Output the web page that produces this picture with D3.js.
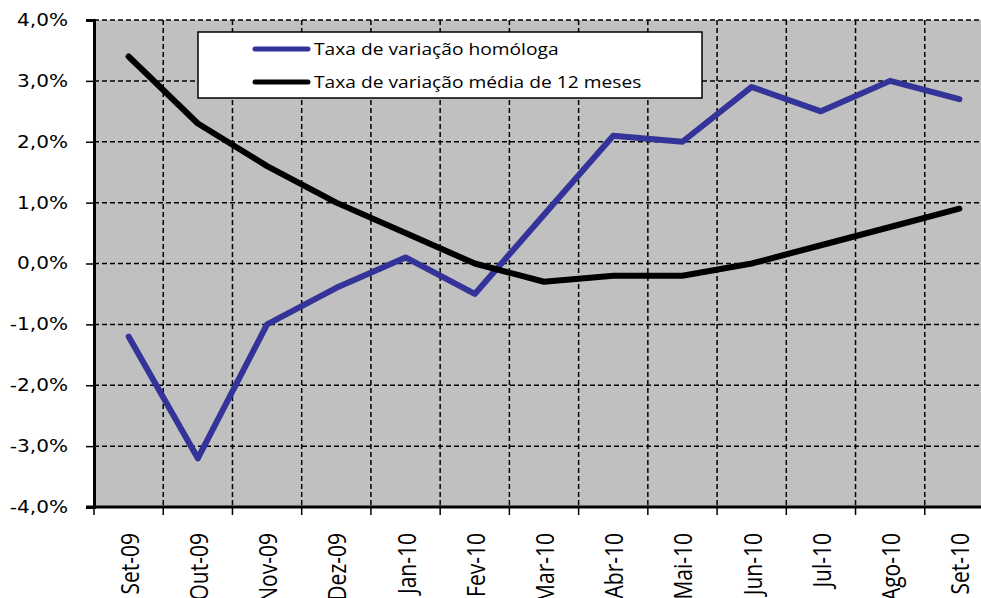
<!DOCTYPE html>
<head>
  <meta charset="UTF-8">
  <title>taxa de variação</title>
  <style>
  body, html, svg{
    padding: 0;
    margin: 0;
  }
  body{
    background: #fff;
    overflow: hidden;
  }
  </style>
</head>
<body>
  <script src="https://cdn.jsdelivr.net/npm/d3@7/dist/d3.min.js"></script>
  <script type="text/javascript">
  var width = 981;
  var height = 598;

  // dados
  var meses = ['Set-09', 'Out-09', 'Nov-09', 'Dez-09', 'Jan-10', 'Fev-10', 'Mar-10',
               'Abr-10', 'Mai-10', 'Jun-10', 'Jul-10', 'Ago-10', 'Set-10'];
  var homologa = [-1.2, -3.2, -1.0, -0.4, 0.1, -0.5, 0.8, 2.1, 2.0, 2.9, 2.5, 3.0, 2.7];
  var media12 = [3.4, 2.3, 1.6, 1.0, 0.5, 0.0, -0.3, -0.2, -0.2, 0.0, 0.3, 0.6, 0.9];
  var yTicks = [-4, -3, -2, -1, 0, 1, 2, 3, 4];
  var series = [
    {nome: 'Taxa de variação homóloga', valores: homologa, cor: '#333399'},
    {nome: 'Taxa de variação média de 12 meses', valores: media12, cor: '#000'}
  ];

  // area do grafico (window.top nao pode ser usado)
  var pLeft = 94, pRight = 994, pTop = 20, pBottom = 507;
  var esticar = 1.18; // o original esta esticado na horizontal

  var svg = d3.select('body')
    .append('svg')
    .attr('width', width)
    .attr('height', height);

  var x = d3.scaleBand().domain(meses).range([pLeft, pRight]).padding(0);
  var y = d3.scaleLinear().domain([-4, 4]).range([pBottom, pTop]);

  //fundo
  svg.append('rect')
    .attr('x', pLeft).attr('y', pTop)
    .attr('width', pRight - pLeft).attr('height', pBottom - pTop)
    .attr('fill', '#c0c0c0');

  //grelha
  var grid = svg.append('g')
    .attr('stroke', '#000')
    .attr('stroke-width', 1.5)
    .attr('stroke-dasharray', '5,3');
  grid.selectAll('.h')
    .data(yTicks.slice(1))
    .enter().append('line')
    .attr('x1', pLeft).attr('x2', pRight)
    .attr('y1', d => y(d)).attr('y2', d => y(d));
  grid.selectAll('.v')
    .data(meses.slice(1))
    .enter().append('line')
    .attr('x1', d => x(d)).attr('x2', d => x(d))
    .attr('y1', pTop).attr('y2', pBottom);

  //eixos
  var yAxis = d3.axisLeft(y)
    .tickValues(yTicks)
    .tickSize(8)
    .tickFormat(d => d.toFixed(1).replace('.', ',') + '%');
  var gy = svg.append('g')
    .attr('transform', 'translate(' + pLeft + ',0)')
    .call(yAxis);
  gy.select('.domain').attr('stroke-width', 3);
  gy.selectAll('.tick line').attr('stroke-width', 1.5);
  gy.selectAll('text')
    .attr('x', -26 / esticar)
    .attr('transform', 'scale(' + esticar + ',1)')
    .attr('font-family', 'DejaVu Sans')
    .attr('font-size', 17)
    .attr('fill', '#000');

  var bandTicks = meses.map(d => x(d)).concat([pRight]);
  var gx = svg.append('g').attr('transform', 'translate(0,' + pBottom + ')');
  gx.append('line')
    .attr('x1', pLeft - 8).attr('x2', pRight)
    .attr('stroke', '#000').attr('stroke-width', 3);
  gx.selectAll('.tk')
    .data(bandTicks)
    .enter().append('line')
    .attr('x1', d => d).attr('x2', d => d)
    .attr('y1', 0).attr('y2', 8)
    .attr('stroke', '#000').attr('stroke-width', 1.5);
  gx.selectAll('text')
    .data(meses)
    .enter().append('text')
    .attr('transform', d => 'translate(' + (x(d) + x.bandwidth() / 2 + 10) + ',26) scale(1.25,1) rotate(-90)')
    .attr('text-anchor', 'end')
    .attr('font-family', 'Open Sans')
    .attr('font-size', 21)
    .attr('fill', '#000')
    .text(d => d);

  //linhas
  var line = d3.line()
    .x((d, i) => x(meses[i]) + x.bandwidth() / 2)
    .y(d => y(d));
  svg.append('g')
    .selectAll('path')
    .data(series)
    .enter().append('path')
    .attr('d', d => line(d.valores))
    .attr('fill', 'none')
    .attr('stroke', d => d.cor)
    .attr('stroke-width', 6)
    .attr('stroke-linecap', 'round')
    .attr('stroke-linejoin', 'round');

  //legenda
  var lg = svg.append('g');
  lg.append('rect')
    .attr('x', 198).attr('y', 32)
    .attr('width', 504).attr('height', 66)
    .attr('fill', '#fff')
    .attr('stroke', '#000')
    .attr('stroke-width', 1.5);
  var item = lg.selectAll('.item')
    .data(series)
    .enter().append('g')
    .attr('transform', (d, i) => 'translate(0,' + (49 + i * 33) + ')');
  item.append('line')
    .attr('x1', 255).attr('x2', 308)
    .attr('stroke', d => d.cor)
    .attr('stroke-width', 5)
    .attr('stroke-linecap', 'round');
  item.append('text')
    .attr('x', 314 / 1.13).attr('y', 6)
    .attr('transform', 'scale(1.13,1)')
    .attr('font-family', 'Open Sans')
    .attr('font-size', 17)
    .attr('fill', '#000')
    .text(d => d.nome);
  </script>
</body>
</html>
